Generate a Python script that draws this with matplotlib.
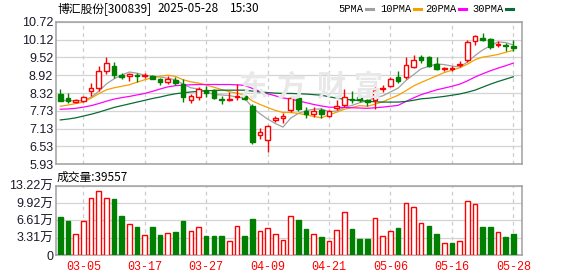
import numpy as np
import matplotlib
matplotlib.use("Agg")
import matplotlib.pyplot as plt

# trading days shown (Feb 28 .. May 28 2025)
dates = ["02-28", "03-03", "03-04", "03-05", "03-06", "03-07", "03-10", "03-11", "03-12", "03-13",
         "03-14", "03-17", "03-18", "03-19", "03-20", "03-21", "03-24", "03-25", "03-26", "03-27",
         "03-28", "03-31", "04-01", "04-02", "04-03", "04-07", "04-08", "04-09", "04-10", "04-11",
         "04-14", "04-15", "04-16", "04-17", "04-18", "04-21", "04-22", "04-23", "04-24", "04-25",
         "04-28", "04-29", "04-30", "05-06", "05-07", "05-08", "05-09", "05-12", "05-13", "05-14",
         "05-15", "05-16", "05-19", "05-20", "05-21", "05-22", "05-23", "05-26", "05-27", "05-28"]

opens = [8.30, 8.17, 8.03, 8.04, 8.40, 8.48, 9.07, 9.23, 8.93, 8.91,
         8.93, 8.89, 8.89, 8.78, 8.70, 8.77, 8.63, 8.09, 8.18, 8.43,
         8.43, 8.12, 8.08, 8.18, 8.21, 7.88, 6.90, 6.73, 7.43, 7.50,
         7.75, 8.16, 7.72, 7.62, 7.74, 7.56, 7.81, 7.91, 8.14, 8.18,
         8.10, 8.09, 8.45, 8.57, 8.87, 8.85, 9.21, 9.55, 9.54, 9.29,
         9.14, 9.14, 9.25, 9.42, 10.06, 10.16, 10.13, 9.93, 9.94, 9.89]
highs = [8.46, 8.31, 8.13, 8.23, 8.66, 9.23, 9.55, 9.36, 9.00, 8.99,
         9.00, 8.99, 8.92, 8.82, 8.90, 8.85, 8.78, 8.29, 8.54, 8.56,
         8.45, 8.22, 8.37, 8.63, 8.25, 7.94, 7.16, 7.24, 7.55, 7.66,
         8.22, 8.18, 7.87, 7.84, 7.81, 7.75, 8.09, 8.46, 8.40, 8.26,
         8.13, 8.54, 8.58, 8.87, 9.07, 9.55, 9.60, 9.61, 9.58, 9.52,
         9.21, 9.22, 9.40, 10.11, 10.28, 10.33, 10.17, 10.08, 10.00, 10.10]
lows = [8.06, 8.00, 8.00, 8.01, 8.21, 8.38, 8.96, 8.82, 8.78, 8.74,
        8.70, 8.82, 8.78, 8.61, 8.62, 8.60, 8.02, 7.98, 8.09, 8.18,
        8.13, 7.95, 8.07, 8.09, 8.09, 6.61, 6.79, 6.33, 7.35, 7.33,
        7.70, 7.73, 7.47, 7.51, 7.47, 7.51, 7.74, 7.84, 7.99, 8.01,
        7.90, 7.78, 8.36, 8.54, 8.67, 8.81, 9.18, 9.33, 9.21, 9.10,
        9.07, 9.07, 9.19, 9.36, 9.94, 10.06, 9.81, 9.86, 9.75, 9.72]
closes = [8.07, 8.06, 8.09, 8.20, 8.48, 9.05, 9.32, 8.93, 8.85, 8.98,
          8.89, 8.93, 8.80, 8.68, 8.78, 8.65, 8.18, 8.21, 8.47, 8.34,
          8.16, 8.10, 8.13, 8.22, 8.13, 6.68, 7.00, 7.20, 7.48, 7.55,
          8.17, 7.80, 7.63, 7.73, 7.63, 7.73, 7.89, 8.20, 8.10, 8.09,
          8.02, 8.43, 8.49, 8.79, 8.74, 9.27, 9.43, 9.45, 9.23, 9.14,
          9.17, 9.16, 9.30, 10.04, 10.23, 10.12, 9.86, 9.97, 9.92, 9.85]

ma5 = [8.08, 8.07, 8.06, 8.08, 8.18, 8.38, 8.63, 8.80, 8.93, 9.03,
       8.99, 8.92, 8.89, 8.86, 8.82, 8.77, 8.62, 8.50, 8.46, 8.37,
       8.27, 8.26, 8.24, 8.19, 8.15, 7.85, 7.63, 7.45, 7.30, 7.18,
       7.48, 7.64, 7.73, 7.78, 7.79, 7.70, 7.72, 7.84, 7.91, 8.00,
       8.06, 8.17, 8.23, 8.36, 8.49, 8.74, 8.94, 9.14, 9.22, 9.30,
       9.28, 9.23, 9.20, 9.36, 9.58, 9.77, 9.91, 10.04, 10.02, 9.94]
ma10 = [7.88, 7.92, 7.97, 8.02, 8.15, 8.30, 8.43, 8.50, 8.55, 8.60,
        8.69, 8.77, 8.84, 8.89, 8.92, 8.88, 8.77, 8.70, 8.66, 8.59,
        8.52, 8.44, 8.37, 8.32, 8.26, 8.06, 7.94, 7.84, 7.74, 7.67,
        7.67, 7.64, 7.59, 7.54, 7.49, 7.59, 7.68, 7.78, 7.84, 7.90,
        7.88, 7.95, 8.03, 8.14, 8.25, 8.40, 8.56, 8.68, 8.79, 8.90,
        9.01, 9.09, 9.17, 9.29, 9.44, 9.53, 9.57, 9.62, 9.69, 9.76]
ma20 = [7.78, 7.79, 7.81, 7.85, 7.90, 7.97, 8.05, 8.12, 8.17, 8.21,
        8.26, 8.31, 8.38, 8.46, 8.53, 8.57, 8.59, 8.60, 8.61, 8.61,
        8.61, 8.61, 8.61, 8.60, 8.58, 8.48, 8.38, 8.30, 8.23, 8.16,
        8.12, 8.06, 8.00, 7.94, 7.89, 7.85, 7.84, 7.84, 7.83, 7.82,
        7.81, 7.83, 7.85, 7.88, 7.91, 8.04, 8.16, 8.27, 8.35, 8.43,
        8.49, 8.55, 8.62, 8.73, 8.86, 8.97, 9.07, 9.16, 9.24, 9.33]
ma30 = [7.42, 7.45, 7.49, 7.55, 7.61, 7.68, 7.76, 7.84, 7.90, 7.96,
        8.02, 8.08, 8.14, 8.19, 8.25, 8.30, 8.33, 8.36, 8.38, 8.40,
        8.41, 8.42, 8.42, 8.42, 8.42, 8.39, 8.36, 8.34, 8.32, 8.31,
        8.31, 8.30, 8.29, 8.27, 8.25, 8.20, 8.15, 8.12, 8.09, 8.07,
        8.05, 8.03, 8.02, 8.02, 8.02, 8.04, 8.08, 8.13, 8.15, 8.18,
        8.21, 8.25, 8.29, 8.35, 8.42, 8.52, 8.62, 8.71, 8.79, 8.87]

# volume in 万手, colour flag per day (R = up vs prev close)
vol = [7.26, 6.5, 3.95, 6.5, 10.8, 12.2, 10.8, 10.7, 7.45, 5.9,
       5.35, 3.8, 5.35, 3.8, 4.2, 4.4, 6.5, 4.5, 5.3, 3.6,
       3.6, 3.6, 2.7, 5.5, 3.6, 6.9, 4.5, 5.1, 3.95, 2.8,
       7.4, 6.7, 4.95, 3.95, 3.45, 2.7, 4.7, 8.15, 4.95, 3.05,
       3.05, 7.0, 3.55, 4.5, 5.15, 9.9, 9.1, 6.1, 5.55, 4.0,
       2.3, 2.3, 2.7, 10.25, 9.75, 5.35, 5.35, 4.4, 3.45, 3.96]
vol_up = "GGRRRRRGGR" "GRGGRGGRRG" "GGRRGGRRRR" "RGGRGRRRGG" "GRRRGRRRGG" "RGRRRGGRGG"
last_vol = 39557

price_ticks = ["5.93", "6.53", "7.13", "7.73", "8.32", "8.92", "9.52", "10.12", "10.72"]
vol_ticks = [0, 3.31, 6.61, 9.92, 13.22]
vol_tick_labels = ["0", "3.31万", "6.61万", "9.92万", "13.22万"]

RED = "#ff0000"
GREEN = "#008000"
W, H = 578, 276
fx = lambda px: px / W
fy = lambda py: 1 - py / H

plt.rcParams['font.family'] = ['Liberation Sans', 'Noto Sans CJK SC']

fig = plt.figure(figsize=(W / 100, H / 100), dpi=100)
fig.patch.set_facecolor("white")
ax = fig.add_axes([fx(56), fy(164.3), fx(522) - fx(56), (164.3 - 21.7) / H])
axv = fig.add_axes([fx(56), fy(255), fx(522) - fx(56), (255 - 185.7) / H])

x = np.arange(len(dates))
o, h, l, c = map(np.array, (opens, highs, lows, closes))
up = c >= o
xlim = (-0.56, 60.13)
tick_idx = list(range(3, len(dates), 8))

# watermark
for ch, px in zip("东方财富", [253, 292, 331, 368]):
    fig.text(fx(px), fy(87), ch, fontsize=21, color="#e8e8e8", ha="center", va="center",
             family="Noto Sans CJK SC", weight="bold", zorder=0)
ax.patch.set_alpha(0)

# candles
ax.vlines(x[up], l[up], h[up], color=RED, lw=1, zorder=3)
ax.vlines(x[~up], l[~up], h[~up], color=GREEN, lw=1, zorder=3)
body = np.maximum(np.abs(c - o), 0.012)
ax.bar(x[up], body[up], bottom=np.minimum(o, c)[up], width=0.6, facecolor="white",
       edgecolor=RED, linewidth=1, zorder=4)
ax.bar(x[~up], body[~up], bottom=np.minimum(o, c)[~up], width=0.6, facecolor=GREEN,
       edgecolor=GREEN, linewidth=1, zorder=4)

ma_colors = ["#a0a0a0", "#f5a000", "#ff00ff", "#0b6b35"]
for ma, col in zip([ma5, ma10, ma20, ma30], ma_colors):
    ax.plot(x, ma, color=col, lw=0.9, zorder=2)

ax.set_ylim(5.93, 10.72)
ax.set_yticks(np.linspace(5.93, 10.72, len(price_ticks)))
ax.set_yticklabels(price_ticks)

# volume
vcol = [RED if f == "R" else GREEN for f in vol_up]
for xi, v, col in zip(x, vol, vcol):
    axv.bar(xi, v, width=0.6, facecolor="white" if col == RED else GREEN,
            edgecolor=col, linewidth=1, zorder=3)
axv.set_ylim(0, 13.22)
axv.set_yticks(vol_ticks)
axv.set_yticklabels(vol_tick_labels)

for a in (ax, axv):
    a.set_xlim(*xlim)
    a.set_xticks(tick_idx)
    a.grid(axis="y", color="#d4d4d4", lw=0.9, zorder=0)
    for t in tick_idx:
        a.axvline(t, color="#cccccc", lw=0.9, ls=(0, (3, 3)), zorder=1)
    for s in a.spines.values():
        s.set_color("#a0a0a0")
        s.set_linewidth(1.1)
    a.tick_params(length=0, pad=2, labelsize=9, labelcolor="#1a1a2a")

ax.set_xticklabels([])
axv.set_xticklabels([dates[i] for i in tick_idx], family="Liberation Mono", fontsize=8.5, color=RED)
axv.tick_params(axis="x", pad=4)

# header texts
fig.text(fx(57), fy(8.5), "博汇股份[300839]", fontsize=8.5, va="center", family="Noto Sans CJK SC")
fig.text(fx(157), fy(8.5), "2025-05-28", fontsize=8.5, va="center", family="Noto Sans CJK SC")
fig.text(fx(230), fy(8.5), "15:30", fontsize=8.5, va="center", family="Noto Sans CJK SC")
fig.text(fx(57), fy(177), "成交量:%d" % last_vol, fontsize=8.5, va="center", family="Noto Sans CJK SC")

legend_items = [("5PMA", 338), ("10PMA", 380), ("20PMA", 425), ("30PMA", 472)]
for (name, px), col in zip(legend_items, ma_colors):
    t = fig.text(fx(px), fy(9), name, fontsize=7.5, va="center", family="Liberation Mono")
    end = px + 6 * len(name) + 4
    fig.add_artist(plt.Line2D([fx(end), fx(end + 7)], [fy(9), fy(9)], color=col, lw=2.2,
                              transform=fig.transFigure))

fig.savefig("out.png", dpi=100)
